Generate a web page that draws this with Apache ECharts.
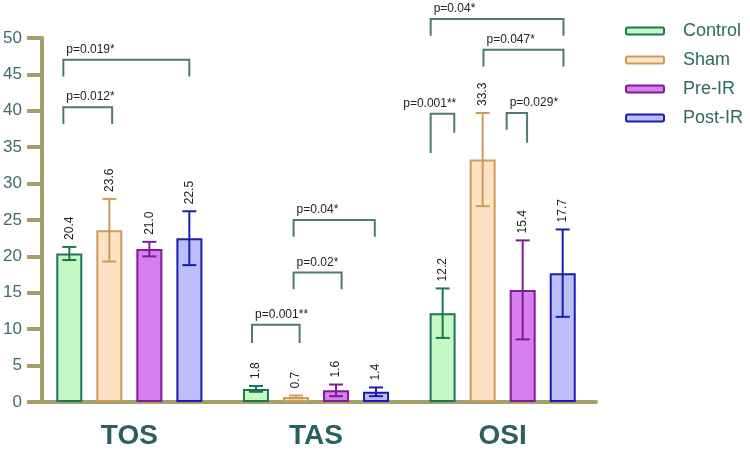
<!DOCTYPE html>
<html>
<head>
<meta charset="utf-8">
<script src="https://cdn.jsdelivr.net/npm/echarts@6/dist/echarts.min.js"></script>
<style>
  html, body { margin: 0; padding: 0; background: #fff; }
  #chart { width: 750px; height: 454px; }
</style>
</head>
<body>
<div id="chart"></div>
<script>
// categories and groups
var categories = ['TOS', 'TAS', 'OSI'];
var groups = ['Control', 'Sham', 'Pre-IR', 'Post-IR'];

// means per category (TOS, TAS, OSI)
var controlMean = [20.4, 1.8, 12.2];
var shamMean = [23.6, 0.7, 33.3];
var preMean = [21.0, 1.6, 15.4];
var postMean = [22.5, 1.4, 17.7];

// error bar half-lengths
var controlErr = [0.9, 0.4, 3.4];
var shamErr = [4.3, 0.2, 6.4];
var preErr = [1.0, 0.8, 6.8];
var postErr = [3.7, 0.6, 6.0];

// significance: category, left slot, right slot, bar y, left leg end, right leg end, text, text align
var brackets = [
    [0, -1.65, 1.5, 47.0, 44.7, 44.7, 'p=0.019*', 'left'],
    [0, -1.65, -0.43, 40.5, 38.2, 38.2, 'p=0.012*', 'left'],
    [1, -1.6, -0.41, 10.6, 8.1, 8.1, 'p=0.001**', 'left'],
    [1, -0.56, 0.64, 17.8, 15.5, 15.5, 'p=0.02*', 'left'],
    [1, -0.56, 1.47, 25.0, 22.7, 22.7, 'p=0.04*', 'left'],
    [2, -1.8, 1.52, 52.6, 50.3, 50.3, 'p=0.04*', 'left'],
    [2, -0.48, 1.52, 48.4, 46.1, 46.1, 'p=0.047*', 'left'],
    [2, -1.8, -1.21, 39.6, 34.2, 37.0, 'p=0.001**', 'right'],
    [2, 0.1, 0.61, 39.7, 37.4, 35.6, 'p=0.029*', 'left']
];

var means = [controlMean, shamMean, preMean, postMean];
var errs = [controlErr, shamErr, preErr, postErr];
var fills = ['#c4f8c6', '#fde2c4', '#d77ef0', '#bdbdf9'];
var strokes = ['#1e7650', '#cc9c5c', '#7f1c96', '#1c1cb0'];

var BAR_W = 26;
var SLOT = 40; // bar width + gap in px
var AXIS_COLOR = '#a59f6c';
var FONT = 'Liberation Sans, Arial, sans-serif';

function errorRenderer(gi) {
    return function (params, api) {
        var ci = api.value(0);
        var m = api.value(1);
        var e = api.value(2);
        var x = api.coord([ci, m])[0] + (gi - 1.5) * SLOT;
        var top = api.coord([ci, m + e])[1];
        var bot = api.coord([ci, m - e])[1];
        var st = { stroke: strokes[gi], lineWidth: 2 };
        return {
            type: 'group',
            children: [
                { type: 'line', shape: { x1: x, y1: top, x2: x, y2: bot }, style: st },
                { type: 'line', shape: { x1: x - 7, y1: top, x2: x + 7, y2: top }, style: st },
                { type: 'line', shape: { x1: x - 7, y1: bot, x2: x + 7, y2: bot }, style: st },
                {
                    type: 'text', x: x, y: top - 7, rotation: Math.PI / 2,
                    style: {
                        text: m.toFixed(1), fill: '#222', font: '12px ' + FONT,
                        align: 'left', verticalAlign: 'middle'
                    }
                }
            ]
        };
    };
}

function bracketRenderer(params, api) {
    var b = brackets[params.dataIndex];
    var cx = api.coord([b[0], 0])[0];
    var x1 = cx + b[1] * SLOT;
    var x2 = cx + b[2] * SLOT;
    var y = api.coord([b[0], b[3]])[1];
    var yl = api.coord([b[0], b[4]])[1];
    var yr = api.coord([b[0], b[5]])[1];
    var st = { stroke: '#4b7a76', lineWidth: 2, fill: null };
    return {
        type: 'group',
        children: [
            { type: 'polyline', shape: { points: [[x1, yl], [x1, y], [x2, y], [x2, yr]] }, style: st },
            {
                type: 'text',
                x: b[7] === 'right' ? x2 + 2 : x1 + 3,
                y: y - 10,
                style: {
                    text: b[6], fill: '#222', font: '12px ' + FONT,
                    align: b[7], verticalAlign: 'middle'
                }
            }
        ]
    };
}

var series = [];
groups.forEach(function (g, gi) {
    series.push({
        name: g,
        type: 'bar',
        data: means[gi],
        barWidth: BAR_W,
        barGap: '54%',
        itemStyle: { color: fills[gi], borderColor: strokes[gi], borderWidth: 2 },
        z: 2
    });
});
groups.forEach(function (g, gi) {
    series.push({
        type: 'custom',
        data: categories.map(function (c, i) { return [i, means[gi][i], errs[gi][i]]; }),
        renderItem: errorRenderer(gi),
        z: 3,
        silent: true
    });
});
series.push({
    type: 'custom',
    data: brackets.map(function (b) { return [b[0], b[3]]; }),
    renderItem: bracketRenderer,
    clip: false,
    z: 4,
    silent: true
});

var chart = echarts.init(document.getElementById('chart'));
chart.setOption({
    animation: false,
    backgroundColor: '#fff',
    grid: { left: 36, right: 154, top: 38, bottom: 52 },
    legend: {
        data: groups,
        orient: 'vertical',
        left: 620,
        top: 17,
        itemWidth: 38,
        itemHeight: 7,
        itemGap: 11,
        textStyle: { fontSize: 18, color: '#2e6a62', fontFamily: FONT, padding: [0, 0, 0, 14] }
    },
    xAxis: {
        type: 'category',
        data: categories,
        axisLine: { lineStyle: { color: AXIS_COLOR, width: 4 } },
        axisTick: { alignWithLabel: true, length: 15, lineStyle: { color: AXIS_COLOR, width: 4 } },
        axisLabel: { fontSize: 28, fontWeight: 'bold', color: '#2d5f5e', fontFamily: FONT, margin: 20 }
    },
    yAxis: {
        type: 'value',
        min: 0,
        max: 50,
        interval: 5,
        offset: -6,
        splitLine: { show: false },
        axisLine: { show: true, lineStyle: { color: AXIS_COLOR, width: 4 } },
        axisTick: { show: true, length: 15, lineStyle: { color: AXIS_COLOR, width: 4 } },
        axisLabel: { fontSize: 17, color: '#3e6b6b', fontFamily: FONT, margin: 20 }
    },
    series: series
});
</script>
</body>
</html>
